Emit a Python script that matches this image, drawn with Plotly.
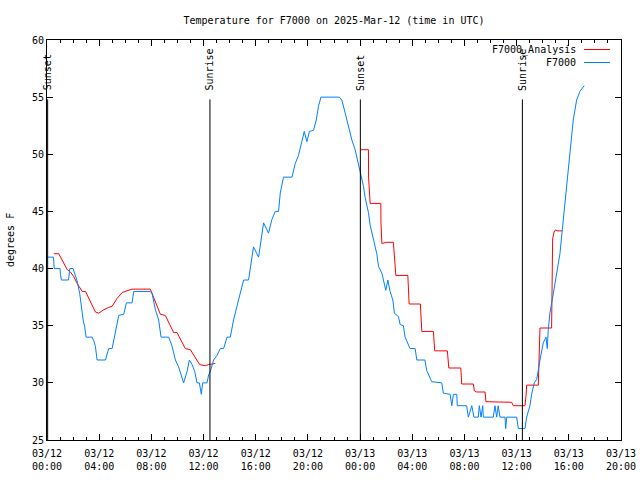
import plotly.graph_objects as go
import pandas as pd

# ---- data (hours after 2025-03-12 00:00 UTC, degrees F) ----
obs_hours = [0.00, 0.50, 0.55, 1.00, 1.03, 1.10, 1.65, 1.75, 2.00, 2.31, 2.51, 2.62, 2.77, 2.89, 3.00,
             3.46, 3.58, 3.71, 3.84, 4.48, 4.61, 4.73, 4.99, 5.17, 5.50, 5.88, 6.09, 6.52, 6.65, 7.92,
             8.06, 8.31, 8.56, 8.74, 9.33, 9.59, 9.84, 10.09, 10.47, 10.74, 10.91, 11.12, 11.32, 11.50,
             11.68, 11.83, 11.93, 12.27, 12.39, 12.52, 12.77, 13.03, 13.28, 13.54, 13.80, 14.05, 14.30,
             14.56, 14.82, 15.07, 15.45, 15.58, 15.83, 16.22, 16.60, 16.98, 17.24, 17.50, 17.75, 17.88,
             18.13, 18.78, 19.03, 19.28, 19.54, 19.72, 19.92, 20.12, 20.43, 20.64, 20.81, 21.00, 22.40,
             22.60, 22.86, 23.11, 23.37, 23.62, 23.87, 24.06, 24.26, 24.39, 24.64, 24.77, 25.02, 25.28,
             25.41, 25.67, 25.79, 25.97, 26.13, 26.30, 26.51, 26.63, 26.94, 27.07, 27.32, 27.45, 27.83,
             28.22, 28.35, 28.97, 29.10, 29.49, 30.26, 30.38, 30.90, 31.03, 31.15, 31.41, 31.45, 32.17,
             32.30, 32.56, 32.73, 33.06, 33.14, 33.27, 33.40, 33.45, 34.21, 34.34, 34.47, 34.59, 34.72,
             35.11, 35.16, 35.24, 36.00, 36.13, 36.64, 36.77, 37.02, 37.15, 37.35, 37.54, 37.79, 38.04,
             38.25, 38.35, 38.42, 38.55, 38.81, 39.07, 39.32, 39.50, 39.70, 39.95, 40.16, 40.34, 40.60,
             40.85, 41.18]
obs_temp = [41.0, 41.0, 40.0, 40.0, 39.5, 39.0, 39.0, 40.0, 40.0, 38.9, 37.8, 36.7, 35.5, 34.9, 34.0,
            34.0, 33.7, 33.2, 32.0, 32.0, 32.6, 33.0, 33.0, 34.0, 35.9, 36.0, 37.0, 37.0, 38.0, 38.0,
            37.8, 36.4, 35.5, 34.0, 34.0, 33.2, 32.0, 31.4, 30.0, 31.0, 32.0, 31.6, 31.0, 30.0,
            30.0, 29.0, 30.0, 30.0, 30.7, 31.0, 32.0, 32.4, 33.0, 33.0, 34.0, 34.0, 35.5,
            36.7, 37.8, 39.0, 39.0, 39.9, 41.9, 41.0, 44.0, 43.1, 44.3, 45.0, 45.0, 46.6,
            48.0, 48.0, 49.2, 49.9, 51.25, 52.0, 51.1, 52.0, 52.1, 53.0, 54.2, 55.0, 55.0,
            54.75, 53.6, 52.4, 51.25, 50.4, 49.2, 48.2, 47.2, 46.2, 44.9, 43.8, 42.5, 41.3,
            40.2, 39.6, 39.0, 38.1, 39.0, 38.0, 37.25, 36.1, 35.8, 35.1, 35.0, 34.0, 33.0,
            33.0, 32.0, 32.0, 31.1, 30.1, 30.0, 29.1, 29.0, 28.0, 29.0, 29.0, 28.0, 28.0,
            27.0, 28.0, 27.0, 27.0, 28.0, 27.0, 28.0, 27.0, 27.0, 28.0, 27.0, 28.0, 27.0,
            27.0, 26.0, 27.0, 27.0, 26.0, 26.0, 27.0, 28.0, 29.0, 30.0, 30.3, 32.0, 33.5,
            34.0, 33.0, 34.6, 36.1, 37.8, 39.6, 41.3, 43.4, 45.7, 48.3, 51.0, 53.0, 54.75,
            55.5, 56.0]

ana_hours = [0.52, 0.90, 1.16, 1.55, 1.80, 2.05, 2.31, 2.70, 2.95, 3.33, 3.71, 3.97, 4.35, 4.73, 4.99,
             5.38, 5.76, 6.14, 6.52, 7.92, 8.31, 8.69, 9.07, 9.46, 9.71, 9.97, 10.22, 10.60, 10.99,
             11.24, 11.50, 11.70, 12.14, 12.39, 12.90, None,
             24.06, 24.64, 24.65, 24.77, 25.59, 25.60, 25.67, 26.05, 26.55, 26.68, 26.74, 27.66, 27.70,
             27.76, 28.62, 28.68, 28.73, 29.62, 29.67, 29.72, 30.69, 30.74, 30.80, 31.72, 31.74, 31.79,
             32.68, 32.76, 32.94, 33.58, 33.65, 35.62, 35.74, 36.64, 36.72, 36.77, 37.66, 37.71, 37.79,
             38.68, 38.73, 38.76, 38.87, 38.99, 39.09, 39.52]
ana_temp = [41.3, 41.3, 40.75, 39.9, 39.7, 39.3, 38.7, 38.0, 38.0, 37.1, 36.2, 36.1, 36.4, 36.6, 36.7,
            37.4, 37.9, 38.06, 38.2, 38.2, 37.1, 36.0, 35.9, 34.9, 34.4, 34.4, 33.8, 33.0, 32.9,
            32.4, 32.0, 31.6, 31.5, 31.6, 31.7, None,
            50.4, 50.4, 48.0, 45.7, 45.7, 44.0, 42.2, 42.3, 42.3, 40.6, 39.4, 39.4, 38.1,
            36.9, 36.9, 35.6, 34.5, 34.5, 33.6, 32.8, 32.8, 32.0, 31.3, 31.3, 30.6, 29.9,
            29.9, 29.3, 29.2, 29.2, 28.35, 28.3, 28.0, 28.0, 28.9, 29.8, 29.8, 32.3, 34.8,
            34.8, 38.56, 42.6, 43.2, 43.4, 43.3, 43.3]

sun_hours = [0.05, 12.49, 24.02, 36.44]
sun_labels = ["Sunset", "Sunrise", "Sunset", "Sunrise"]

tick_hours = [0, 4, 8, 12, 16, 20, 24, 28, 32, 36, 40, 44]
tick_labels = ["03/12<br>00:00", "03/12<br>04:00", "03/12<br>08:00", "03/12<br>12:00",
               "03/12<br>16:00", "03/12<br>20:00", "03/13<br>00:00", "03/13<br>04:00",
               "03/13<br>08:00", "03/13<br>12:00", "03/13<br>16:00", "03/13<br>20:00"]

series_names = ["F7000_Analysis", "F7000"]
series_colors = ["#ff0000", "#0080ff"]

title_text = "Temperature for F7000 on 2025-Mar-12 (time in UTC)"
y_title = "degrees F"

# ---- build ----
base = pd.Timestamp("2025-03-12 00:00")


def to_time(hs):
    return [None if h is None else base + pd.Timedelta(hours=h) for h in hs]


FONT = "DejaVu Sans Mono"
OFF = 0  # body margin removed by post_script below
W, H = 640, 480
# target plot-area edges in screen pixels
L, R, T, B = 47, 621, 40, 440

fig = go.Figure()
fig.add_trace(go.Scatter(x=to_time(ana_hours), y=ana_temp, mode="lines", name=series_names[0],
                         line=dict(color=series_colors[0], width=1), connectgaps=False,
                         showlegend=False))
fig.add_trace(go.Scatter(x=to_time(obs_hours), y=obs_temp, mode="lines", name=series_names[1],
                         line=dict(color=series_colors[1], width=1), showlegend=False))

for h, lab in zip(sun_hours, sun_labels):
    t = base + pd.Timedelta(hours=h)
    fig.add_shape(type="line", xref="x", yref="y", x0=t, x1=t, y0=25, y1=54.8,
                  line=dict(color="black", width=1))
    fig.add_annotation(x=t, y=55.4, xref="x", yref="y", text=lab, textangle=-90,
                       showarrow=False, xanchor="center", yanchor="bottom",
                       font=dict(family=FONT, size=10, color="black"))


def px(xpix):
    return (xpix - L) / (R - L)


def py(ypix):
    return (B - ypix) / (B - T)


# manual gnuplot-style legend (text right-aligned, sample to the right)
for i, (nm, col) in enumerate(zip(series_names, series_colors)):
    yp = 49.5 + 13 * i
    fig.add_annotation(x=px(578), y=py(yp), xref="paper", yref="paper", text=nm,
                       showarrow=False, xanchor="right", yanchor="middle",
                       font=dict(family=FONT, size=10, color="black"))
    fig.add_shape(type="line", xref="paper", yref="paper", x0=px(584), x1=px(610),
                  y0=py(yp), y1=py(yp), line=dict(color=col, width=1))

fig.add_annotation(x=px(10), y=0.5, xref="paper", yref="paper", text=y_title, textangle=-90,
                   showarrow=False, xanchor="center", yanchor="middle",
                   font=dict(family=FONT, size=10, color="black"))

fig.update_layout(
    width=W, height=H, autosize=False,
    margin=dict(l=L - OFF, r=W - (R - OFF), t=T - OFF, b=H - (B - OFF), autoexpand=False),
    paper_bgcolor="white", plot_bgcolor="white",
    font=dict(family=FONT, size=10, color="black"),
    title=dict(text=title_text, x=((L + R) / 2 - OFF) / W, xanchor="center", xref="container",
               y=1 - (20 - OFF) / H, yanchor="middle", font=dict(family=FONT, size=10, color="black")),
    showlegend=False,
)
fig.update_xaxes(
    range=[base, base + pd.Timedelta(hours=44)],
    tickvals=to_time(tick_hours), ticktext=tick_labels,
    ticks="inside", ticklen=6, tickcolor="black", tickwidth=1,
    showline=True, linecolor="black", linewidth=1, mirror="allticks",
    showgrid=False, zeroline=False, ticklabelstandoff=4,
    minor=dict(dtick=3600000, ticks="inside", ticklen=3, tickcolor="black", showgrid=False),
    tickfont=dict(family=FONT, size=10, color="black"),
)
fig.update_yaxes(
    range=[25, 60], dtick=5, tick0=25,
    ticks="inside", ticklen=6, tickcolor="black", tickwidth=1,
    showline=True, linecolor="black", linewidth=1, mirror="allticks",
    showgrid=False, zeroline=False,
    tickfont=dict(family=FONT, size=10, color="black"),
)

fig.write_html("out.html", config={"displayModeBar": False, "staticPlot": True},
               post_script="document.body.style.margin='0px';document.body.style.padding='0px';")
